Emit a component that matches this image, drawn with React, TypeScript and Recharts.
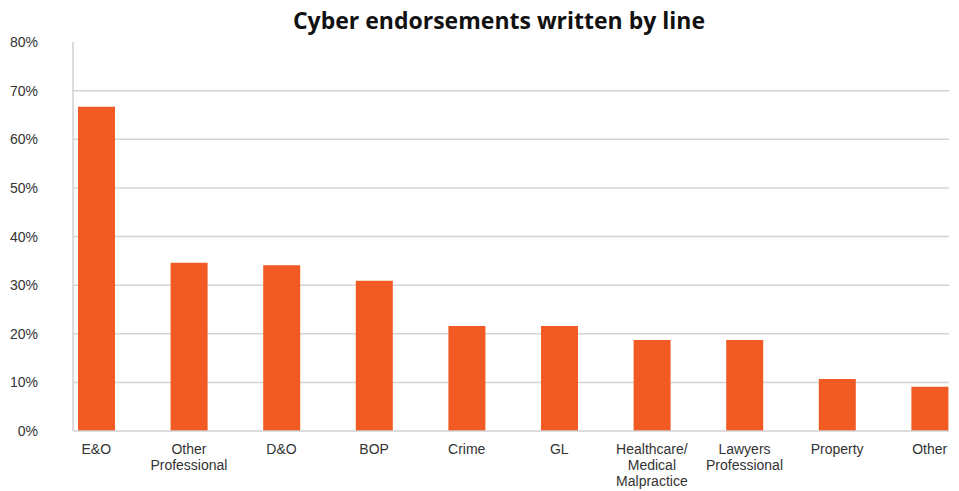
import { BarChart, Bar, XAxis, YAxis, CartesianGrid } from "recharts";

const lines = [
  "E&O",
  "Other\nProfessional",
  "D&O",
  "BOP",
  "Crime",
  "GL",
  "Healthcare/\nMedical\nMalpractice",
  "Lawyers\nProfessional",
  "Property",
  "Other",
];

const shares = [66.7, 34.6, 34.1, 30.9, 21.6, 21.6, 18.7, 18.7, 10.7, 9.1];

const yTicks = [0, 10, 20, 30, 40, 50, 60, 70, 80];
const gridValues = [10, 20, 30, 40, 50, 60, 70];

const data = lines.map((line, i) => ({ line, share: shares[i] }));

const FONT = "'Liberation Sans', Arial, sans-serif";

const XTick = (props: any) => {
  const { x, y, payload } = props;
  const parts = String(payload.value).split("\n");
  return (
    <text
      x={x}
      y={y + 15}
      textAnchor="middle"
      fontFamily={FONT}
      fontSize={14}
      fill="#333"
    >
      {parts.map((p, i) => (
        <tspan key={i} x={x} dy={i === 0 ? 0 : 16}>
          {p}
        </tspan>
      ))}
    </text>
  );
};

const YTick = (props: any) => {
  const { y, payload } = props;
  return (
    <text
      x={38}
      y={y + 5}
      textAnchor="end"
      fontFamily={FONT}
      fontSize={14}
      fill="#333"
    >
      {payload.value + "%"}
    </text>
  );
};

export default function App() {
  return (
    <div
      style={{
        position: "absolute",
        top: 0,
        left: 0,
        width: 959,
        height: 491,
        overflow: "hidden",
        background: "#fff",
      }}
    >
      <div
        style={{
          position: "absolute",
          top: 4,
          left: 0,
          width: 998,
          textAlign: "center",
          fontFamily: "'Open Sans', sans-serif",
          fontWeight: 700,
          fontSize: 23,
          color: "#111",
        }}
      >
        Cyber endorsements written by line
      </div>
      <BarChart
        width={959}
        height={491}
        data={data}
        margin={{ top: 42, right: 10, bottom: 0, left: 0 }}
      >
        <CartesianGrid
          vertical={false}
          horizontalValues={gridValues}
          stroke="#d4d4d4"
          strokeWidth={1.5}
        />
        <XAxis
          dataKey="line"
          interval={0}
          height={60}
          tickLine={false}
          axisLine={{ stroke: "#d0d0d0", strokeWidth: 1.5 }}
          padding={{ left: -23, right: -27 }}
          tick={<XTick />}
        />
        <YAxis
          width={73}
          domain={[0, 80]}
          ticks={yTicks}
          tickLine={false}
          axisLine={{ stroke: "#d0d0d0", strokeWidth: 1.5 }}
          tick={<YTick />}
        />
        <Bar dataKey="share" fill="#f15a22" barSize={37} isAnimationActive={false} />
      </BarChart>
    </div>
  );
}
